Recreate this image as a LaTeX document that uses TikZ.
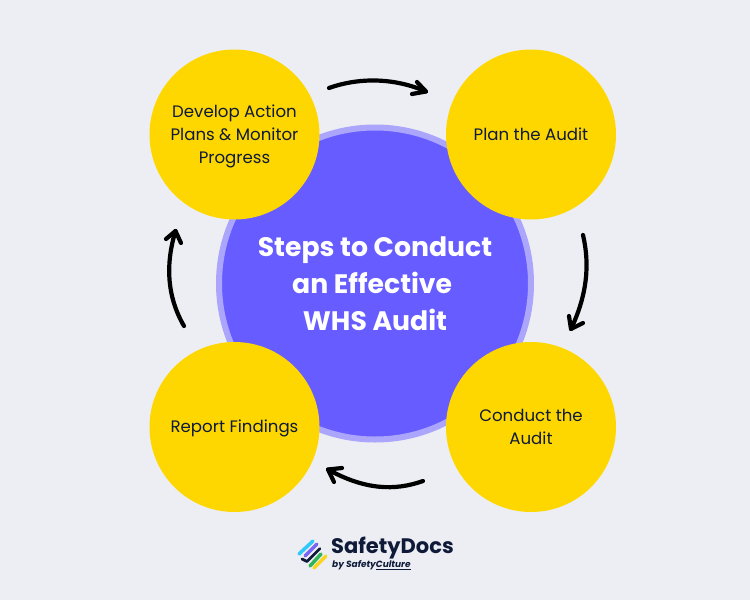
\documentclass[tikz,border=0pt]{standalone}
\usepackage{fontspec}
\setmainfont{Poppins}
\definecolor{bgc}{HTML}{ECEEF3}
\definecolor{sun}{HTML}{FFD700}
\definecolor{vio}{HTML}{665CFF}
\definecolor{lav}{HTML}{ABA6FB}
\definecolor{navy}{HTML}{0E1A38}
\tikzset{
 step circle/.style={circle,fill=sun,minimum size=170pt,inner sep=0pt,align=center,text=navy,font=\fontsize{16.6}{23}\selectfont},
 flow/.style={line width=4.2pt,line cap=round,line join=round,black},
 logo bar/.style={line width=3.5pt,line cap=round,line join=round}
}
\begin{document}
\begin{tikzpicture}[x=1pt,y=-1pt]
\useasboundingbox (0,0) rectangle (750,600);
\fill[bgc] (0,0) rectangle (750,600);
\node[circle,fill=vio,draw=lav,line width=6pt,minimum size=312pt,inner sep=0pt,align=center,text=white,font=\fontsize{26.7}{37}\selectfont\bfseries] (hub) at (375,283.5) {Steps to Conduct\\an Effective\ \strut\\WHS Audit};
\node[step circle] (s4) at (234.5,134.5) {\rule{0pt}{16pt}Develop Action\\Plans \& Monitor\\Progress};
\node[step circle] (s1) at (531,134.5) {Plan the Audit};
\node[step circle] (s2) at (531,427) {Conduct the\\Audit};
\node[step circle] (s3) at (234.5,427) {\rule{0pt}{14.5pt}Report Findings};
% arrows
\coordinate (a1s) at (329,88); \coordinate (a1e) at (426,91.5);
\coordinate (a2s) at (583,235); \coordinate (a2e) at (571,329);
\coordinate (a3s) at (423,481); \coordinate (a3e) at (328,469.5);
\coordinate (a4s) at (184,326); \coordinate (a4e) at (175.5,231);
\draw[flow] (a1s) .. controls (360,77) and (395,78) .. (a1e);
\draw[flow] (417,82) -- (a1e) -- (412,94);
\draw[flow] (a2s) .. controls (590,265) and (587,295) .. (a2e);
\draw[flow] (569,316) -- (a2e) -- (583,323);
\draw[flow] (a3s) .. controls (395,491) and (365,490) .. (a3e);
\draw[flow] (342,468) -- (a3e) -- (334,482);
\draw[flow] (a4s) .. controls (166,295) and (166,262) .. (a4e);
\draw[flow] (166,239) -- (a4e) -- (181,243);
% logo
\draw[logo bar,color={rgb,255:red,50;green,200;blue,250}] (299,554) -- (313,541);
\draw[logo bar,color={rgb,255:red,120;green,100;blue,245}] (305,556) -- (317,544);
\draw[logo bar,navy,line width=2.8pt] (302,559) -- (307,561.5) -- (320,548.5);
\draw[logo bar,color={rgb,255:red,50;green,180;blue,90}] (310,566) -- (321,554);
\draw[logo bar,color={rgb,255:red,252;green,212;blue,30}] (314,568) -- (326,556);
\node[anchor=west,inner sep=0pt,text=navy,font=\fontsize{21}{23}\selectfont\bfseries] (brand) at (331,548.5) {SafetyDocs};
\node[anchor=west,inner sep=0pt,text=navy,font=\fontsize{9}{10}\selectfont\bfseries\itshape] (sub) at (332,565) {by Safety\underline{Culture}};
\end{tikzpicture}
\end{document}
